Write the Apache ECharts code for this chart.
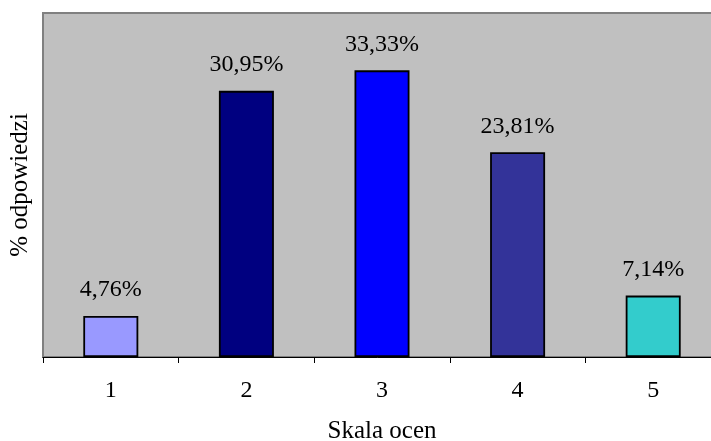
<!DOCTYPE html>
<html>
<head>
<meta charset="utf-8">
<script src="https://cdn.jsdelivr.net/npm/echarts@6/dist/echarts.min.js"></script>
<style>
  html, body { margin: 0; padding: 0; background: #ffffff; }
  #chart { width: 711px; height: 441px; }
</style>
</head>
<body>
<div id="chart"></div>
<script>
// Rozkład odpowiedzi w skali ocen 1–5
const categories = ['1', '2', '3', '4', '5'];
const values = [4.76, 30.95, 33.33, 23.81, 7.14];
const barColors = ['#9999ff', '#000080', '#0000ff', '#333399', '#33cccc'];

const font = 'Liberation Serif, Times New Roman, serif';

const chart = echarts.init(document.getElementById('chart'));
chart.setOption({
  animation: false,
  backgroundColor: '#ffffff',
  grid: {
    left: 43,
    top: 13,
    width: 678,
    height: 344,
    outerBoundsMode: 'none',
    show: true,
    backgroundColor: '#c0c0c0',
    borderColor: '#808080',
    borderWidth: 2
  },
  xAxis: {
    type: 'category',
    data: categories,
    name: 'Skala ocen',
    nameLocation: 'middle',
    nameGap: 62,
    nameTextStyle: { fontFamily: font, fontSize: 25, color: '#000000' },
    axisLine: { lineStyle: { color: '#000000', width: 1 } },
    axisTick: { show: true, length: 6, lineStyle: { color: '#000000' } },
    axisLabel: { fontFamily: font, fontSize: 24, color: '#000000', margin: 22 }
  },
  yAxis: {
    type: 'value',
    min: 0,
    max: 40,
    name: '% odpowiedzi',
    nameLocation: 'middle',
    nameGap: 10,
    nameTextStyle: { fontFamily: font, fontSize: 25, color: '#000000' },
    axisLine: { show: false },
    axisTick: { show: false },
    axisLabel: { show: false },
    splitLine: { show: false }
  },
  series: [{
    type: 'bar',
    barWidth: 55,
    data: values.map((v, i) => ({
      value: v,
      itemStyle: { color: barColors[i] }
    })),
    itemStyle: { borderColor: '#000000', borderWidth: 1.8 },
    label: {
      show: true,
      position: 'top',
      distance: 14,
      fontFamily: font,
      fontSize: 24,
      color: '#000000',
      formatter: p => p.value.toFixed(2).replace('.', ',') + '%'
    }
  }]
});
</script>
</body>
</html>
